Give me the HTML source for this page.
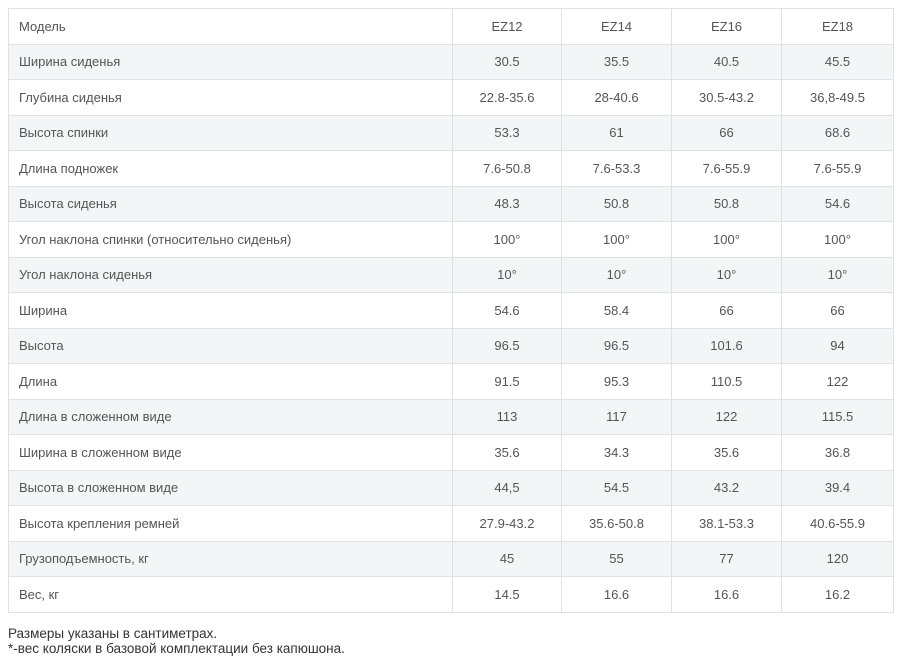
<!DOCTYPE html>
<html><head><meta charset="utf-8"><style>
body{margin:0;background:#fff;font-family:"Liberation Sans",sans-serif;color:#555;}
table{position:absolute;left:8px;top:8px;border-collapse:collapse;width:885px;table-layout:fixed;}
td{border:1.5px solid #dde2e6;height:34.5px;padding:0;font-size:13px;text-align:center;}
td:first-child{text-align:left;padding-left:10px;}
tr:nth-child(even) td{background:#f3f5f7;}
.note{position:absolute;left:8px;top:626px;font-size:13.5px;color:#333;line-height:15px;}
</style></head><body>
<table>
<colgroup><col style="width:444px"><col style="width:109px"><col style="width:110px"><col style="width:110px"><col style="width:112px"></colgroup>
<tr><td>Модель</td><td>EZ12</td><td>EZ14</td><td>EZ16</td><td>EZ18</td></tr>
<tr><td>Ширина сиденья</td><td>30.5</td><td>35.5</td><td>40.5</td><td>45.5</td></tr>
<tr><td>Глубина сиденья</td><td>22.8-35.6</td><td>28-40.6</td><td>30.5-43.2</td><td>36,8-49.5</td></tr>
<tr><td>Высота спинки</td><td>53.3</td><td>61</td><td>66</td><td>68.6</td></tr>
<tr><td>Длина подножек</td><td>7.6-50.8</td><td>7.6-53.3</td><td>7.6-55.9</td><td>7.6-55.9</td></tr>
<tr><td>Высота сиденья</td><td>48.3</td><td>50.8</td><td>50.8</td><td>54.6</td></tr>
<tr><td>Угол наклона спинки (относительно сиденья)</td><td>100°</td><td>100°</td><td>100°</td><td>100°</td></tr>
<tr><td>Угол наклона сиденья</td><td>10°</td><td>10°</td><td>10°</td><td>10°</td></tr>
<tr><td>Ширина</td><td>54.6</td><td>58.4</td><td>66</td><td>66</td></tr>
<tr><td>Высота</td><td>96.5</td><td>96.5</td><td>101.6</td><td>94</td></tr>
<tr><td>Длина</td><td>91.5</td><td>95.3</td><td>110.5</td><td>122</td></tr>
<tr><td>Длина в сложенном виде</td><td>113</td><td>117</td><td>122</td><td>115.5</td></tr>
<tr><td>Ширина в сложенном виде</td><td>35.6</td><td>34.3</td><td>35.6</td><td>36.8</td></tr>
<tr><td>Высота в сложенном виде</td><td>44,5</td><td>54.5</td><td>43.2</td><td>39.4</td></tr>
<tr><td>Высота крепления ремней</td><td>27.9-43.2</td><td>35.6-50.8</td><td>38.1-53.3</td><td>40.6-55.9</td></tr>
<tr><td>Грузоподъемность, кг</td><td>45</td><td>55</td><td>77</td><td>120</td></tr>
<tr><td>Вес, кг</td><td>14.5</td><td>16.6</td><td>16.6</td><td>16.2</td></tr>
</table>
<div class="note">Размеры указаны в сантиметрах.<br>*-вес коляски в базовой комплектации без капюшона.</div>
</body></html>
